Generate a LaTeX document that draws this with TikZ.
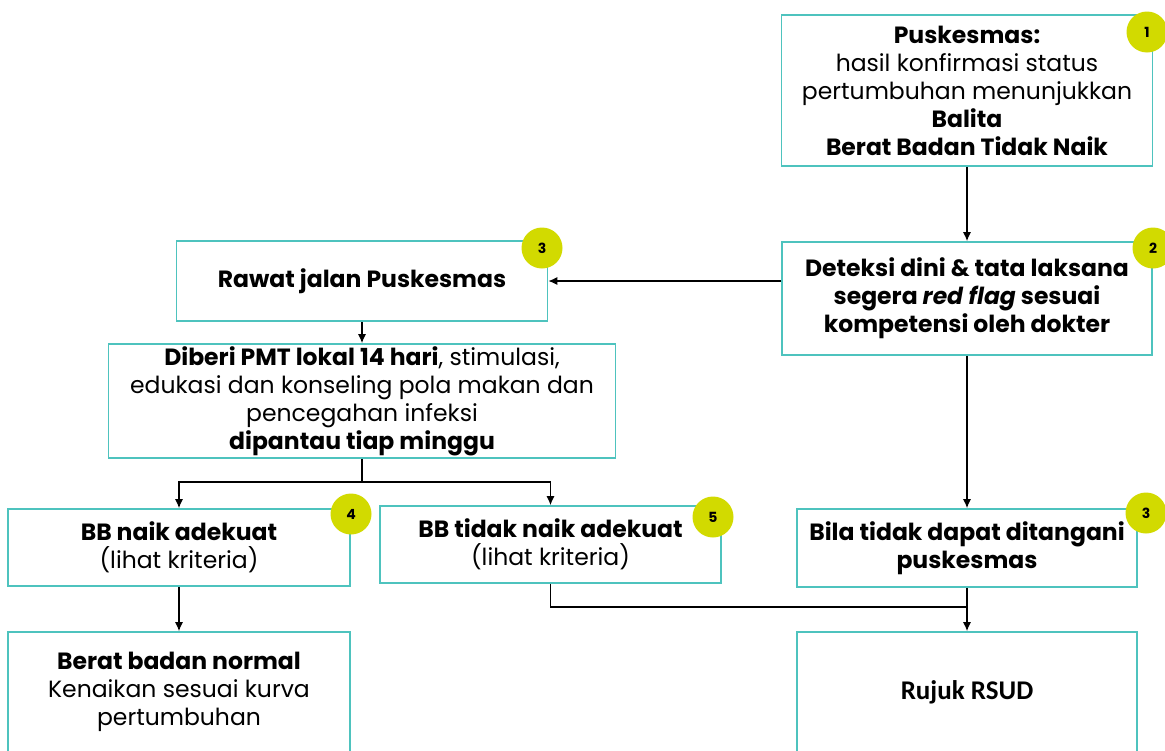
\documentclass[tikz,border=0pt]{standalone}
\usepackage{fontspec}
\setmainfont{Poppins}
\newfontfamily\calibri{Carlito}
\usetikzlibrary{shapes,arrows,arrows.meta}
\definecolor{tosca}{RGB}{78,195,190}
\definecolor{limau}{RGB}{210,218,0}

\begin{document}
\begin{tikzpicture}[x=1pt,y=-1pt,->,>={Latex[length=9pt,width=8pt]},draw=black!100,line width=1.3pt]
	\def \colleft{179}
	\def \colmid{362}
	\def \colright{967}
	\def \rowtop{90.5}
	\def \rowtwo{298.5}
	\def \rowfour{547.5}
	\def \rowbottom{692}

	\tikzstyle{box}=[rectangle,draw=tosca,line width=1.6pt,align=center,inner sep=0pt,font=\fontsize{23.5}{28}\selectfont]
	\tikzstyle{badge}=[circle,fill=limau,draw=none,inner sep=0pt,minimum size=41pt,font=\fontsize{14}{14}\selectfont\bfseries]

	\clip (0,0) rectangle (1165,750);

	% boxes
	\node[box,minimum width=371pt,minimum height=151pt] (konfirmasi) at (\colright,\rowtop)
		{\textbf{Puskesmas:}\\ hasil konfirmasi status\\ pertumbuhan menunjukkan\\ \textbf{Balita}\\ \textbf{Berat Badan Tidak Naik}};
	\node[box,minimum width=370pt,minimum height=113pt] (deteksi) at (\colright,\rowtwo)
		{\textbf{Deteksi dini \& tata laksana}\\ \textbf{segera \textit{red flag} sesuai}\\ \textbf{kompetensi oleh dokter}};
	\node[box,minimum width=371pt,minimum height=80pt] (rawat) at (\colmid,281)
		{\textbf{Rawat jalan Puskesmas}};
	\node[box,minimum width=507pt,minimum height=114pt] (pmt) at (\colmid,401)
		{\textbf{Diberi PMT lokal 14 hari}, stimulasi,\\ edukasi dan konseling pola makan dan\\ pencegahan infeksi\\ \textbf{dipantau tiap minggu}};
	\node[box,minimum width=342pt,minimum height=77pt] (naik) at (\colleft,\rowfour)
		{\textbf{BB naik adekuat}\\ (lihat kriteria)};
	\node[box,minimum width=341pt,minimum height=77pt] (tidaknaik) at (550.5,544.5)
		{\textbf{BB tidak naik adekuat}\\ (lihat kriteria)};
	\node[box,minimum width=340pt,minimum height=78pt] (bila) at (\colright,548)
		{\textbf{Bila tidak dapat ditangani}\\ \textbf{puskesmas}};
	\node[box,minimum width=342pt,minimum height=120pt] (normal) at (\colleft,\rowbottom)
		{\textbf{Berat badan normal}\\ Kenaikan sesuai kurva\\ pertumbuhan};
	\node[box,minimum width=340pt,minimum height=120pt] (rujuk) at (\colright,\rowbottom)
		{\fontsize{27}{30}\calibri\bfseries Rujuk RSUD};

	% number badges
	\node[badge] (n1) at (1147,32) {1};
	\node[badge] (n2) at (1153,248) {2};
	\node[badge] (n3a) at (542,248) {3};
	\node[badge] (n4) at (351,514) {4};
	\node[badge] (n5) at (713,517) {5};
	\node[badge] (n3b) at (1146,513) {3};

	\coordinate (cabang) at (\colmid,482);
	\coordinate (gabung) at (\colright,607);

	\path
		(konfirmasi)	edge	(deteksi)
		(deteksi.west |- rawat)	edge	(rawat.east)
		(rawat)	edge	(pmt)
		(deteksi)	edge	(bila)
		(bila)	edge	(rujuk)
		(naik)	edge	(normal);
	\draw[-] (pmt.south) -- (cabang);
	\draw (cabang) -| (naik.north);
	\draw (cabang) -| (tidaknaik.north);
	\draw[-] (tidaknaik.south) |- (gabung);
\end{tikzpicture}
\end{document}
